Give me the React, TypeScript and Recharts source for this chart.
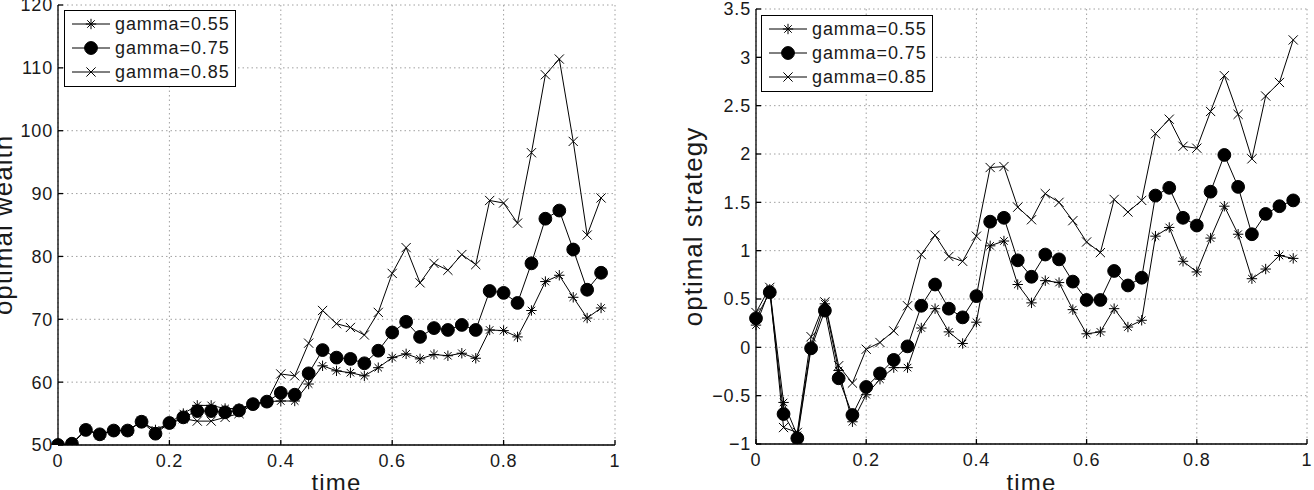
import React from 'react';
import { LineChart, Line, XAxis, YAxis, CartesianGrid } from 'recharts';

const time = [
  0, 0.025, 0.05, 0.075, 0.1, 0.125, 0.15, 0.175, 0.2, 0.225,
  0.25, 0.275, 0.3, 0.325, 0.35, 0.375, 0.4, 0.425, 0.45, 0.475,
  0.5, 0.525, 0.55, 0.575, 0.6, 0.625, 0.65, 0.675, 0.7, 0.725,
  0.75, 0.775, 0.8, 0.825, 0.85, 0.875, 0.9, 0.925, 0.95, 0.975,
];

const wealth055 = [50.0, 50.2, 52.3, 51.8, 52.3, 52.4, 53.6, 52.4, 53.5, 55.0, 56.3, 56.3, 55.8, 55.8, 56.5, 56.9, 57.0, 57.0, 59.7, 62.6, 61.8, 61.5, 61.0, 62.3, 63.9, 64.5, 63.7, 64.4, 64.2, 64.6, 63.8, 68.3, 68.2, 67.2, 71.4, 76.0, 77.0, 73.5, 70.2, 71.8];
const wealth075 = [50.0, 50.2, 52.4, 51.7, 52.3, 52.3, 53.7, 51.8, 53.5, 54.4, 55.4, 55.4, 55.2, 55.5, 56.5, 56.9, 58.3, 58.0, 61.4, 65.1, 63.9, 63.7, 63.0, 65.0, 67.9, 69.6, 67.2, 68.6, 68.3, 69.1, 68.3, 74.5, 74.2, 72.6, 78.9, 86.0, 87.3, 81.1, 74.7, 77.4];
const wealth085 = [50.0, 50.2, 52.5, 51.6, 52.3, 52.2, 53.8, 52.2, 53.4, 54.2, 53.8, 53.8, 54.4, 55.0, 56.5, 56.9, 61.3, 61.0, 66.2, 71.4, 69.3, 68.7, 67.5, 71.1, 77.3, 81.4, 75.8, 78.9, 77.8, 80.3, 78.7, 88.9, 88.5, 85.3, 96.5, 108.9, 111.4, 98.3, 83.4, 89.3];

const strategy055 = [0.23, 0.60, -0.57, -0.91, 0.02, 0.45, -0.24, -0.77, -0.49, -0.33, -0.21, -0.21, 0.20, 0.40, 0.16, 0.04, 0.26, 1.05, 1.10, 0.65, 0.46, 0.69, 0.67, 0.39, 0.14, 0.16, 0.40, 0.21, 0.28, 1.15, 1.24, 0.89, 0.78, 1.13, 1.46, 1.17, 0.71, 0.81, 0.95, 0.92];
const strategy075 = [0.30, 0.57, -0.69, -0.94, -0.01, 0.38, -0.32, -0.70, -0.41, -0.27, -0.13, 0.01, 0.43, 0.65, 0.40, 0.31, 0.53, 1.30, 1.34, 0.90, 0.73, 0.96, 0.91, 0.68, 0.49, 0.49, 0.79, 0.64, 0.72, 1.57, 1.65, 1.34, 1.26, 1.61, 1.99, 1.66, 1.17, 1.38, 1.46, 1.52];
const strategy085 = [0.36, 0.62, -0.83, -0.88, 0.11, 0.47, -0.19, -0.37, -0.02, 0.05, 0.17, 0.43, 0.96, 1.16, 0.94, 0.89, 1.15, 1.86, 1.87, 1.45, 1.32, 1.59, 1.50, 1.31, 1.09, 0.98, 1.53, 1.40, 1.52, 2.21, 2.36, 2.08, 2.06, 2.44, 2.81, 2.41, 1.95, 2.60, 2.74, 3.18];

const seriesNames = ['gamma=0.55', 'gamma=0.75', 'gamma=0.85'];
const seriesKeys = ['g055', 'g075', 'g085'];
const seriesMarkers = ['star', 'circle', 'x'];

const xTicks = [0, 0.2, 0.4, 0.6, 0.8, 1];
const wealthTicks = [50, 60, 70, 80, 90, 100, 110, 120];
const strategyTicks = [-1, -0.5, 0, 0.5, 1, 1.5, 2, 2.5, 3, 3.5];

const wealthData = time.map((t, i) => ({ t, g055: wealth055[i], g075: wealth075[i], g085: wealth085[i] }));
const strategyData = time.map((t, i) => ({ t, g055: strategy055[i], g075: strategy075[i], g085: strategy085[i] }));

const FONT = '"Liberation Sans", Arial, Helvetica, sans-serif';
const TEXT = '#1a1a1a';

const fmt = (v: number) => String(v).replace('-', '\u2212');

function Marker({ type, cx, cy }: { type: string; cx: number; cy: number }) {
  if (type === 'circle') return <circle cx={cx} cy={cy} r={6.4} fill="#000" stroke="#000" />;
  if (type === 'star') {
    const s = 5.2;
    const d = s * 0.72;
    return (
      <g stroke="#000" strokeWidth={1}>
        <line x1={cx - s} y1={cy} x2={cx + s} y2={cy} />
        <line x1={cx} y1={cy - s} x2={cx} y2={cy + s} />
        <line x1={cx - d} y1={cy - d} x2={cx + d} y2={cy + d} />
        <line x1={cx - d} y1={cy + d} x2={cx + d} y2={cy - d} />
      </g>
    );
  }
  const s = 4.6;
  return (
    <g stroke="#000" strokeWidth={1}>
      <line x1={cx - s} y1={cy - s} x2={cx + s} y2={cy + s} />
      <line x1={cx - s} y1={cy + s} x2={cx + s} y2={cy - s} />
    </g>
  );
}

function LegendBox({ left, top }: { left: number; top: number }) {
  return (
    <div
      style={{
        position: 'absolute', left, top, border: '1.5px solid #000', background: '#fff',
        padding: '1px 5px 2px 6px', fontFamily: FONT, fontSize: 18, letterSpacing: 0.9, color: TEXT,
        lineHeight: '24px', boxSizing: 'border-box',
      }}
    >
      {seriesNames.map((name, i) => (
        <div key={name} style={{ display: 'flex', alignItems: 'center', whiteSpace: 'nowrap' }}>
          <svg width={40} height={20} style={{ marginRight: 4 }}>
            <line x1={1} y1={10} x2={39} y2={10} stroke="#000" strokeWidth={1} />
            <Marker type={seriesMarkers[i]} cx={20} cy={10} />
          </svg>
          <span>{name}</span>
        </div>
      ))}
    </div>
  );
}

type PanelProps = {
  data: any[];
  left: number;
  width: number;
  height: number;
  margin: { top: number; right: number; bottom: number; left: number };
  yAxisWidth: number;
  xAxisHeight: number;
  yDomain: [number, number];
  yTicks: number[];
  yLabel: string;
  yLabelX: number;
  legendLeft: number;
  legendTop: number;
};

function Panel(p: PanelProps) {
  const plotLeft = p.margin.left + p.yAxisWidth;
  const plotRight = p.width - p.margin.right;
  const plotTop = p.margin.top;
  const plotBottom = p.height - p.margin.bottom - p.xAxisHeight;
  const xc = (plotLeft + plotRight) / 2;
  const yc = (plotTop + plotBottom) / 2;
  const tickStyle = { fill: TEXT, fontSize: 18, fontFamily: FONT, letterSpacing: 0.8 };
  return (
    <div style={{ position: 'absolute', left: p.left, top: 0, width: p.width, height: p.height }}>
      <LineChart width={p.width} height={p.height} data={p.data} margin={p.margin}>
        <CartesianGrid strokeDasharray="1.5 3" stroke="#a0a0a0" strokeWidth={1} />
        <XAxis
          dataKey="t" type="number" domain={[0, 1]} ticks={xTicks} interval={0}
          tickFormatter={fmt} height={p.xAxisHeight} tickSize={-5} tickMargin={14}
          stroke="#000" strokeWidth={1.3} tick={tickStyle}
          label={() => (
            <text x={xc} y={p.height + 1} textAnchor="middle" fontFamily={FONT} fontSize={24} letterSpacing={1.2} fill={TEXT}>
              time
            </text>
          )}
        />
        <XAxis
          xAxisId="top" orientation="top" dataKey="t" type="number" domain={[0, 1]} ticks={xTicks}
          interval={0} height={0} tick={false} tickSize={-5} stroke="#000" strokeWidth={1.3} allowDataOverflow
        />
        <YAxis
          type="number" domain={p.yDomain} ticks={p.yTicks} interval={0} width={p.yAxisWidth}
          tickFormatter={fmt} tickSize={-5} tickMargin={10} stroke="#000" strokeWidth={1.3} tick={tickStyle}
          allowDataOverflow
          label={() => (
            <text
              x={p.yLabelX} y={yc} textAnchor="middle" fontFamily={FONT} fontSize={26} letterSpacing={1}
              fill={TEXT} transform={`rotate(-90, ${p.yLabelX}, ${yc})`}
            >
              {p.yLabel}
            </text>
          )}
        />
        <YAxis
          yAxisId="right" orientation="right" type="number" domain={p.yDomain} ticks={p.yTicks} interval={0}
          width={0} tick={false} tickSize={-5} stroke="#000" strokeWidth={1.3} allowDataOverflow
        />
        {seriesKeys.map((k, i) => (
          <Line
            key={k} dataKey={k} name={seriesNames[i]} type="linear" stroke="#000" strokeWidth={1}
            isAnimationActive={false}
            dot={(d: any) => <Marker key={`${k}-${d.index}`} type={seriesMarkers[i]} cx={d.cx} cy={d.cy} />}
            activeDot={false}
          />
        ))}
      </LineChart>
      <LegendBox left={p.legendLeft} top={p.legendTop} />
    </div>
  );
}

export default function App() {
  return (
    <div style={{ position: 'absolute', left: 0, top: 0, width: 1314, height: 490, background: '#fff', overflow: 'hidden' }}>
      <Panel
        data={wealthData} left={0} width={640} height={490}
        margin={{ top: 5, right: 25, bottom: 0, left: 0 }} yAxisWidth={58} xAxisHeight={45}
        yDomain={[50, 120]} yTicks={wealthTicks} yLabel="optimal wealth" yLabelX={12}
        legendLeft={64} legendTop={10}
      />
      <Panel
        data={strategyData} left={660} width={654} height={490}
        margin={{ top: 9, right: 7, bottom: 0, left: 0 }} yAxisWidth={96} xAxisHeight={46}
        yDomain={[-1, 3.5]} yTicks={strategyTicks} yLabel="optimal strategy" yLabelX={42}
        legendLeft={101} legendTop={15}
      />
    </div>
  );
}
